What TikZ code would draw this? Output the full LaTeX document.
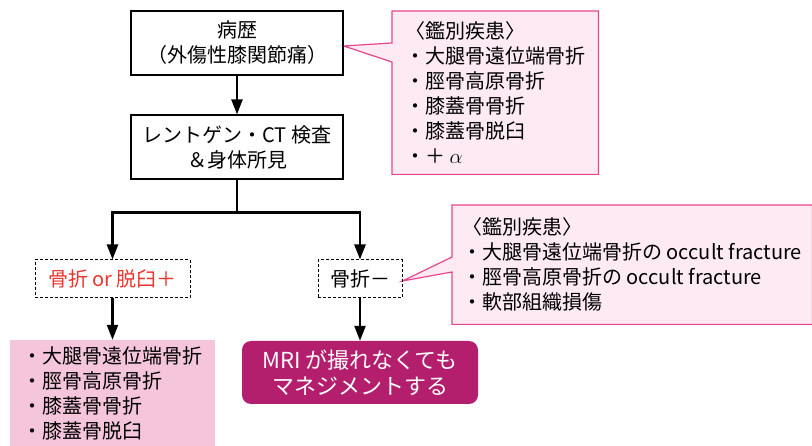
\documentclass[tikz,border=0pt]{standalone}
\usepackage{fontspec}
\setmainfont{Noto Sans CJK JP}
\usetikzlibrary{arrows.meta,calc,backgrounds}
\definecolor{ddxfill}{HTML}{FDEAF3}
\definecolor{ddxline}{HTML}{E6468F}
\definecolor{injuryfill}{HTML}{F5C6DB}
\definecolor{mrifill}{HTML}{B41F6D}
\definecolor{fxred}{HTML}{E8352E}

\begin{document}
\begin{tikzpicture}[x=1pt,y=-1pt,
  every node/.style={font=\fontsize{20}{25}\selectfont,align=center,inner sep=0pt},
  box/.style={draw,line width=1.2pt,minimum width=212pt,minimum height=64pt},
  finding/.style={draw,line width=1pt,dash pattern=on 3pt off 2pt,minimum height=38pt},
  ddx/.style={anchor=north west,align=left},
  callout/.style={draw=ddxline,fill=ddxfill,line width=1.2pt,line join=miter},
  flow/.style={line width=2.4pt,-{Triangle[length=15pt,width=11pt]}}]
  \useasboundingbox (0,0) rectangle (812,446);

  \node[box] (hist) at (237,43) {病歴\\（外傷性膝関節痛）};
  \node[box] (exam) at (237,147) {レントゲン・CT 検査\\＆身体所見};
  \node[finding,minimum width=155pt,text=fxred] (fx) at (112.5,279) {骨折 or 脱臼＋};
  \node[finding,minimum width=84pt] (nofx) at (360,279) {骨折－};
  \node[fill=injuryfill,minimum width=205pt,minimum height=106pt,align=left] (injury) at (112.5,393)
    {・大腿骨遠位端骨折\\・脛骨高原骨折\\・膝蓋骨骨折\\・膝蓋骨脱臼};
  \node[fill=mrifill,text=white,rounded corners=9pt,minimum width=236pt,minimum height=63pt,
    font=\fontsize{22}{26}\selectfont] (mri) at (360,372.5)
    {MRI が撮れなくても\\マネジメントする};
  \node[ddx,minimum width=206pt,minimum height=163pt] (ddx1) at (392,11)
    {〈鑑別疾患〉\\・大腿骨遠位端骨折\\・脛骨高原骨折\\・膝蓋骨骨折\\・膝蓋骨脱臼\\・＋ $\alpha$};
  \node[ddx,minimum width=360pt,minimum height=119pt] (ddx2) at (452,205)
    {〈鑑別疾患〉\\・大腿骨遠位端骨折の occult fracture\\・脛骨高原骨折の occult fracture\\・軟部組織損傷};

  \begin{scope}[on background layer]
    \draw[callout] (ddx1.north west) -- (ddx1.north east) -- (ddx1.south east) -- (ddx1.south west)
      -- ($(ddx1.north west)+(0,51)$) -- ($(hist.east)+(0,3)$) -- ($(ddx1.north west)+(0,32)$) -- cycle;
    \draw[callout] (ddx2.north west) -- (ddx2.north east) -- (ddx2.south east) -- (ddx2.south west)
      -- ($(ddx2.north west)+(0,67)$) -- ($(nofx.east)+(0,2)$) -- ($(ddx2.north west)+(0,52)$) -- cycle;
  \end{scope}

  \draw[flow] (hist) -- (exam);
  \draw[flow] (exam.south) -- ++(0,33) -| (fx.north);
  \draw[flow] (exam.south) -- ++(0,33) -| (nofx.north);
  \draw[flow] (fx) -- (injury);
  \draw[flow] (nofx) -- (mri);
\end{tikzpicture}
\end{document}
